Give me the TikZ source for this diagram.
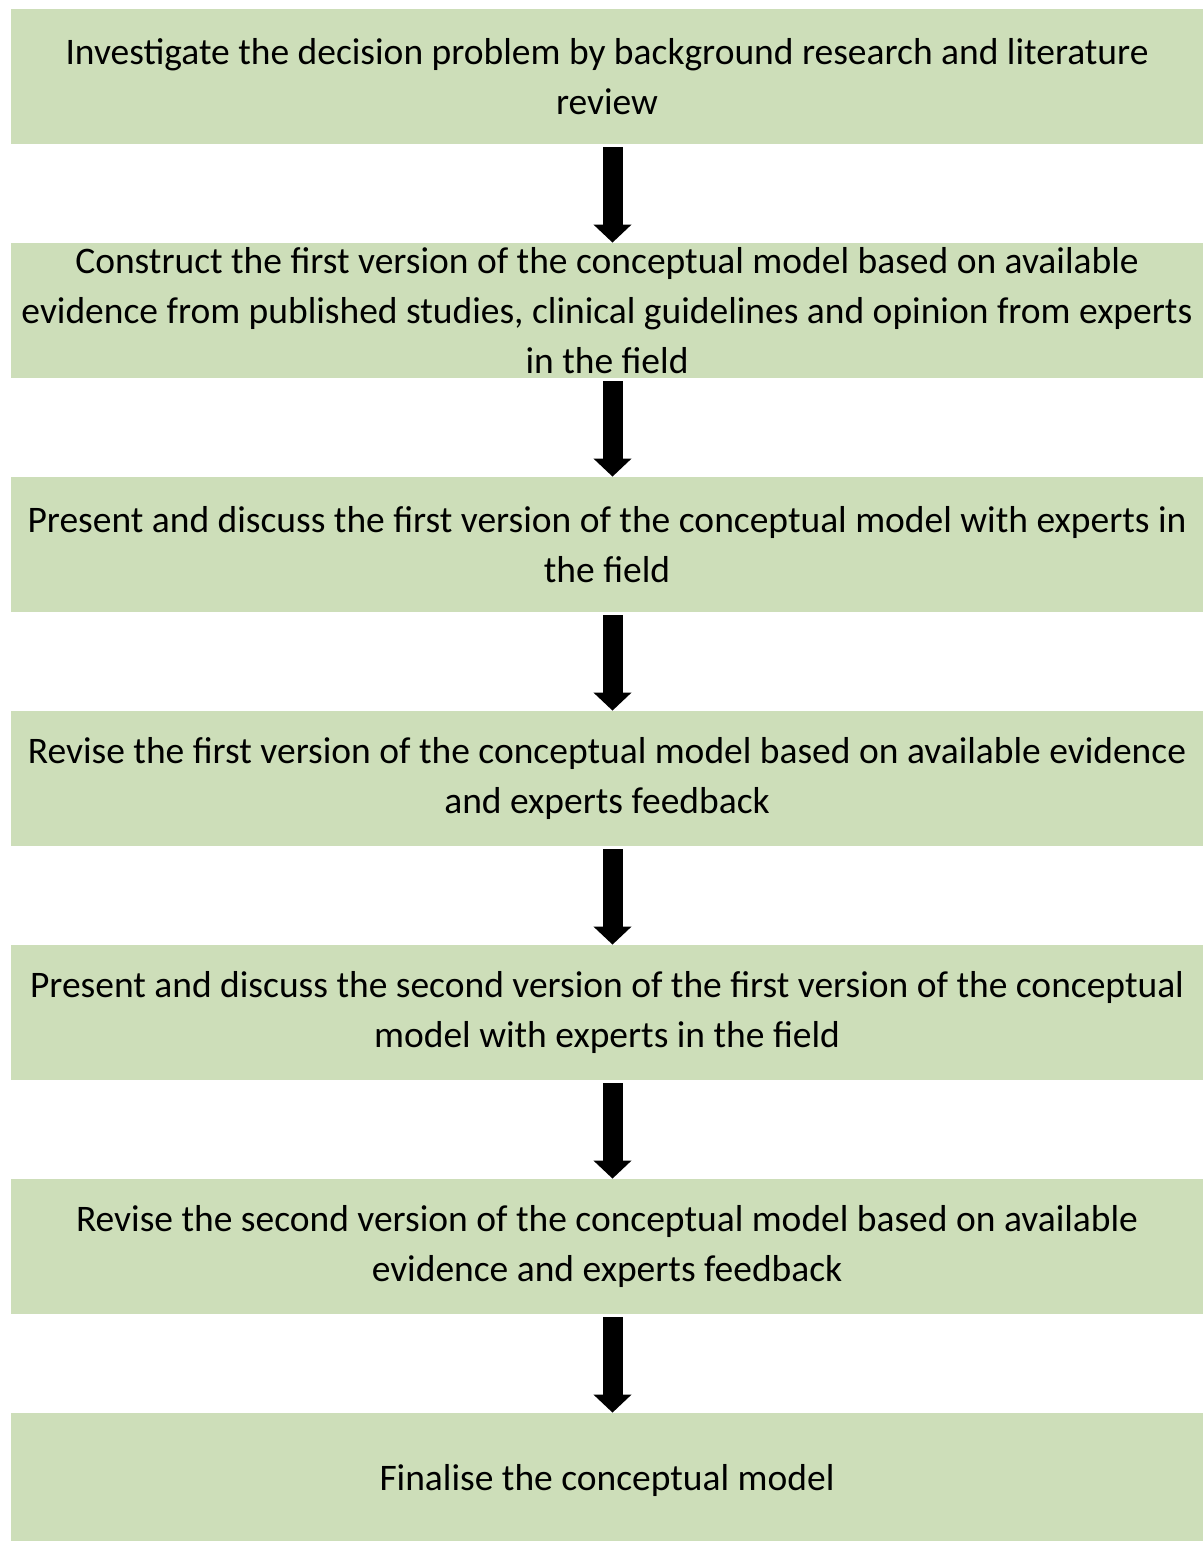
\documentclass[tikz,border=0pt]{standalone}
\usepackage{fontspec}
\setmainfont{Carlito}
\usepackage{tikz}
\usetikzlibrary{arrows.meta}

\definecolor{stepgreen}{RGB}{205,222,185}

\tikzset{
	stepbox/.style = {rectangle, fill = stepgreen, minimum width = 596.5pt, minimum height = 67.5pt,
		align = center, inner sep = 0pt,
		font = \fontsize{18.75}{25}\selectfont},
	flow/.style = {-{Triangle[width = 18.5pt, length = 9pt]}, line width = 10pt, black}
}

\begin{document}
\begin{tikzpicture}[x = 0.5pt, y = -0.5pt]

\useasboundingbox (0,0) rectangle (1203,1541);

%% Draw Steps

\node[stepbox] (investigate) at (607, 76.5) {Investigate the decision problem by background research and literature\\ review};

\node[stepbox] (construct) at (607, 310.5) {Construct the first version of the conceptual model based on available\\ evidence from published studies, clinical guidelines and opinion from experts\\ in the field};

\node[stepbox] (present) at (607, 544.5) {Present and discuss the first version of the conceptual model with experts in\\ the field};

\node[stepbox] (revise) at (607, 778.5) {Revise the first version of the conceptual model based on available evidence\\ and experts feedback};

\node[stepbox] (presentsecond) at (607, 1012.5) {Present and discuss the second version of the first version of the conceptual\\ model with experts in the field};

\node[stepbox] (revisesecond) at (607, 1246.5) {Revise the second version of the conceptual model based on available\\ evidence and experts feedback};

\node[stepbox] (finalise) at (607, 1480.5) {Finalise the conceptual model};

%% Draw Arrows

\draw[flow] ([xshift = 2.75pt, yshift = -1.5pt]investigate.south) -- ([xshift = 2.75pt]construct.north);

\draw[flow] ([xshift = 2.75pt, yshift = -1.5pt]construct.south) -- ([xshift = 2.75pt]present.north);

\draw[flow] ([xshift = 2.75pt, yshift = -1.5pt]present.south) -- ([xshift = 2.75pt]revise.north);

\draw[flow] ([xshift = 2.75pt, yshift = -1.5pt]revise.south) -- ([xshift = 2.75pt]presentsecond.north);

\draw[flow] ([xshift = 2.75pt, yshift = -1.5pt]presentsecond.south) -- ([xshift = 2.75pt]revisesecond.north);

\draw[flow] ([xshift = 2.75pt, yshift = -1.5pt]revisesecond.south) -- ([xshift = 2.75pt]finalise.north);

\end{tikzpicture}
\end{document}
